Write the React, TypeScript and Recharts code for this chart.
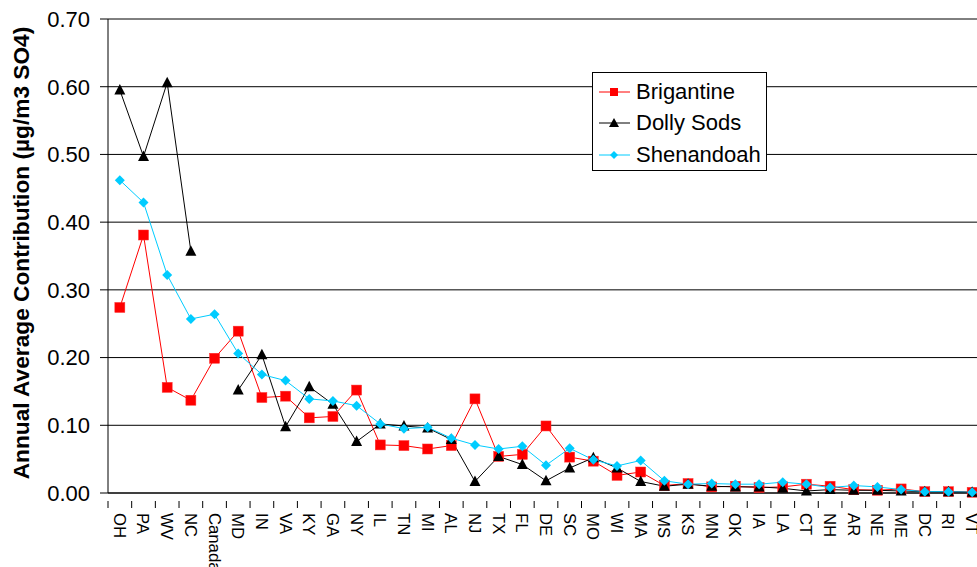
import { LineChart, Line, XAxis, YAxis, CartesianGrid, Label } from 'recharts';

const states = ['OH', 'PA', 'WV', 'NC', 'Canada', 'MD', 'IN', 'VA', 'KY', 'GA', 'NY', 'IL', 'TN', 'MI', 'AL', 'NJ', 'TX', 'FL', 'DE', 'SC', 'MO', 'WI', 'MA', 'MS', 'KS', 'MN', 'OK', 'IA', 'LA', 'CT', 'NH', 'AR', 'NE', 'ME', 'DC', 'RI', 'VT'];

const brigantine = [0.274, 0.381, 0.156, 0.137, 0.199, 0.239, 0.141, 0.143, 0.111, 0.113, 0.152, 0.071, 0.070, 0.065, 0.070, 0.139, 0.054, 0.057, 0.099, 0.053, 0.047, 0.026, 0.031, 0.011, 0.014, 0.009, 0.010, 0.008, 0.009, 0.013, 0.010, 0.005, 0.004, 0.006, 0.002, 0.002, 0.001];
const dollySods = [0.595, 0.497, 0.606, 0.357, null, 0.152, 0.204, 0.098, 0.157, 0.131, 0.076, 0.102, 0.099, 0.096, 0.079, 0.017, 0.054, 0.042, 0.018, 0.037, 0.052, 0.037, 0.017, 0.010, 0.013, 0.010, 0.009, 0.009, 0.007, 0.003, 0.005, 0.004, 0.004, 0.003, 0.002, 0.002, 0.001];
const shenandoah = [0.462, 0.429, 0.322, 0.257, 0.264, 0.206, 0.175, 0.166, 0.139, 0.136, 0.129, 0.102, 0.095, 0.097, 0.081, 0.071, 0.065, 0.069, 0.041, 0.066, 0.049, 0.040, 0.048, 0.018, 0.013, 0.014, 0.013, 0.013, 0.016, 0.013, 0.008, 0.011, 0.009, 0.005, 0.002, 0.002, 0.001];

const yTicks = [0, 0.1, 0.2, 0.3, 0.4, 0.5, 0.6, 0.7];

const data = states.map((s, i) => ({
  state: s,
  Brigantine: brigantine[i],
  'Dolly Sods': dollySods[i],
  Shenandoah: shenandoah[i],
}));

const FONT = "'Liberation Sans', Arial, sans-serif";
const RED = '#FF0000';
const CYAN = '#00CCFF';
const PLOT_W = 876;
const BAND = PLOT_W / states.length;

function Square(props: any) {
  const { cx, cy, index } = props;
  if (cy == null || cx == null) return <g key={'s' + index} />;
  return <rect key={'s' + index} x={cx - 5} y={cy - 5} width={10} height={10} fill={RED} stroke="#FF3030" strokeWidth={0.5} />;
}

function Triangle(props: any) {
  const { cx, cy, index } = props;
  if (cy == null || cx == null) return <g key={'t' + index} />;
  return <polygon key={'t' + index} points={`${cx},${cy - 6} ${cx + 5.5},${cy + 4.5} ${cx - 5.5},${cy + 4.5}`} fill="#000" />;
}

function Diamond(props: any) {
  const { cx, cy, index } = props;
  if (cy == null || cx == null) return <g key={'d' + index} />;
  return <polygon key={'d' + index} points={`${cx},${cy - 5} ${cx + 5},${cy} ${cx},${cy + 5} ${cx - 5},${cy}`} fill={CYAN} />;
}

function StateTick(props: any) {
  const { x, y, payload } = props;
  return (
    <g transform={`translate(${x},${y})`}>
      <line x1={-BAND / 2} y1={0} x2={-BAND / 2} y2={7} stroke="#000" />
      <text transform="rotate(90)" x={12} y={0} dy="0.36em" textAnchor="start" fontSize={16.7} fontFamily={FONT} fill="#000">
        {payload.value}
      </text>
    </g>
  );
}

function LegendBox() {
  const rows = [
    { name: 'Brigantine', color: RED, mark: 'square' },
    { name: 'Dolly Sods', color: '#000', mark: 'triangle' },
    { name: 'Shenandoah', color: CYAN, mark: 'diamond' },
  ];
  return (
    <div style={{ position: 'absolute', left: 592, top: 72, width: 173, height: 94, border: '1px solid #000', background: '#fff', fontFamily: FONT, fontSize: 22, paddingTop: 3 }}>
      {rows.map((r) => (
        <div key={r.name} style={{ display: 'flex', alignItems: 'center', height: 31.5 }}>
          <svg width={43} height={20} style={{ marginLeft: 6 }}>
            <line x1={0} y1={10} x2={31} y2={10} stroke={r.color} strokeWidth={1} />
            {r.mark === 'square' && <rect x={11} y={6} width={8} height={8} fill={r.color} />}
            {r.mark === 'triangle' && <polygon points="15,5 20,14 10,14" fill={r.color} />}
            {r.mark === 'diamond' && <polygon points="15,6 19,10 15,14 11,10" fill={r.color} />}
          </svg>
          <span style={{ marginLeft: -6, color: '#000' }}>{r.name}</span>
        </div>
      ))}
    </div>
  );
}

function AxisTitle() {
  return (
    <text x={21} y={253} transform="rotate(-90, 21, 253)" textAnchor="middle" dominantBaseline="central" fontSize={22.7} fontWeight="bold" fontFamily={FONT} fill="#000">
      Annual Average Contribution (µg/m3 SO4)
    </text>
  );
}

export default function App() {
  return (
    <div style={{ position: 'absolute', left: 0, top: 0, width: 977, height: 567, overflow: 'hidden', background: '#fff' }}>
      <LineChart
        width={1000}
        height={567}
        data={data}
        margin={{ top: 19, right: 16, left: 8, bottom: 0 }}
      >
        <CartesianGrid vertical={false} stroke="#000" strokeWidth={1} />
        <XAxis
          dataKey="state"
          interval={0}
          height={74}
          padding={{ left: BAND / 2, right: BAND / 2 }}
          axisLine={{ stroke: '#000' }}
          tickLine={false}
          tick={<StateTick />}
        />
        <YAxis
          width={100}
          domain={[0, 0.7]}
          ticks={yTicks}
          tickFormatter={(v: number) => v.toFixed(2)}
          axisLine={{ stroke: '#000' }}
          tickLine={{ stroke: '#000' }}
          tickSize={8}
          tickMargin={10}
          tick={{ fontSize: 22, fontFamily: FONT, fill: '#000' }}
        >
          <Label content={<AxisTitle />} />
        </YAxis>
        <Line dataKey="Brigantine" stroke={RED} strokeWidth={1} dot={<Square />} activeDot={false} isAnimationActive={false} />
        <Line dataKey="Dolly Sods" stroke="#000" strokeWidth={1} dot={<Triangle />} activeDot={false} isAnimationActive={false} />
        <Line dataKey="Shenandoah" stroke={CYAN} strokeWidth={1} dot={<Diamond />} activeDot={false} isAnimationActive={false} />
      </LineChart>
      <LegendBox />
    </div>
  );
}
